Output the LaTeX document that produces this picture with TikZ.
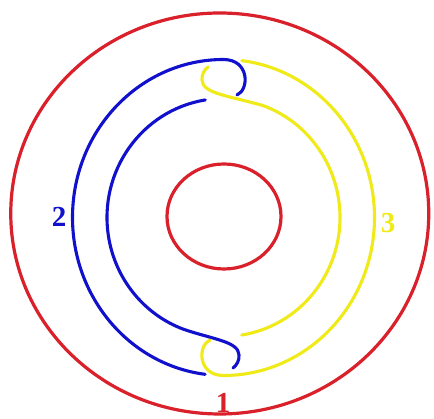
\documentclass[tikz,border=0pt]{standalone}
\usepackage{fontspec}
\setmainfont{Liberation Serif}
\definecolor{kred}{RGB}{218,32,42}
\definecolor{kblue}{RGB}{16,16,205}
\definecolor{kyellow}{RGB}{240,234,24}
\begin{document}
\begin{tikzpicture}[x=1pt,y=1pt,
  ring/.style={draw=kred,line width=3.2pt},
  bluestrand/.style={draw=kblue,line width=3.1pt,line cap=round},
  yellowstrand/.style={draw=kyellow,line width=3.1pt,line cap=round},
  lab/.style={font=\fontsize{29}{29}\selectfont\bfseries,inner sep=0pt}]
\useasboundingbox (0,0) rectangle (434,419);
\fill[white] (0,0) rectangle (434,419);
\draw[ring] (219.75,205.5) ellipse [x radius=209, y radius=200.5];
\draw[ring] (224,202.5) ellipse [x radius=57, y radius=52.5];
\begin{scope}[shift={(223.5,201.5)}]
  % blue outer strand with top hook
  \draw[bluestrand] (13.5,122.5) .. controls (26,128) and (26,158) .. (0,158)
     arc[start angle=90, end angle=263, x radius=151, y radius=158];
  % blue inner strand with bottom hook
  \draw[bluestrand] (-18.22,117.53)
     arc[start angle=99, end angle=250, x radius=116.5, y radius=119]
     .. controls (-10,-122) and (15,-124) .. (15.5,-137.5)
     .. controls (16,-143) and (13,-148) .. (9.5,-150.5);
  % yellow outer strand with bottom hook
  \draw[yellowstrand] (-13.5,-122.5) .. controls (-26,-128) and (-26,-158) .. (0,-158)
     arc[start angle=270, end angle=443, x radius=151, y radius=158];
  % yellow inner strand with top hook
  \draw[yellowstrand] (18.22,-117.53)
     arc[start angle=279, end angle=430, x radius=116.5, y radius=119]
     .. controls (4,122) and (-21,124) .. (-21.5,137.5)
     .. controls (-22,143) and (-19,148) .. (-15.5,150.5);
\end{scope}
\node[lab,text=kblue] (l2) at (59,202) {2};
\node[lab,text=kyellow] (l3) at (388,196) {3};
\node[lab,text=kred] (l1) at (223,16) {1};
\end{tikzpicture}
\end{document}
